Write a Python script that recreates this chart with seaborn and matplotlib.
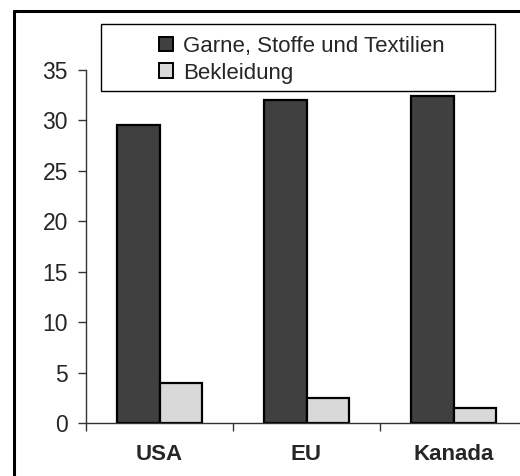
import matplotlib
matplotlib.use("Agg")
import matplotlib.pyplot as plt
from matplotlib.patches import Rectangle
from matplotlib.lines import Line2D
import pandas as pd
import seaborn as sns

# -------------------- data --------------------
regions = ["USA", "EU", "Kanada"]
series = ["Garne, Stoffe und Textilien", "Bekleidung"]
garne = [29.5, 32.0, 32.4]
bekleidung = [4.0, 2.5, 1.5]
yticks = [0, 5, 10, 15, 20, 25, 30, 35]
# ----------------------------------------------

df = pd.DataFrame({
    "region": regions * 2,
    "serie": [series[0]] * 3 + [series[1]] * 3,
    "wert": garne + bekleidung,
})

sns.set_theme(style="white")
plt.rcParams["font.family"] = ["Liberation Sans", "DejaVu Sans"]

W, H = 520, 476
fig = plt.figure(figsize=(W / 100, H / 100), dpi=100)
ax = fig.add_axes([86 / W, 1 - 423 / H, 441 / W, 353 / H])

sns.barplot(
    data=df, x="region", y="wert", hue="serie", order=regions,
    hue_order=series, palette=["#404040", "#d9d9d9"], width=0.58,
    edgecolor="black", linewidth=1.6, saturation=1, legend=False, ax=ax,
)

ax.set_ylim(0, 35)
ax.set_xlim(-0.5, 2.5)
ax.set_yticks(yticks)
ax.set_xticks(range(3))
ax.set_xticklabels(regions, fontweight="bold", fontsize=16)
ax.set_xticks([-0.5, 0.5, 1.5, 2.5], minor=True)
ax.tick_params(axis="x", which="major", length=0, pad=15)
ax.tick_params(axis="x", which="minor", length=6, width=1, color="#333333",
               direction="out", bottom=True)
ax.tick_params(axis="y", length=6, width=1, color="#333333", direction="out",
               left=True, labelsize=16.5, pad=7)
ax.set_xlabel("")
ax.set_ylabel("")
for s in ["top", "right"]:
    ax.spines[s].set_visible(False)
for s in ["left", "bottom"]:
    ax.spines[s].set_color("#333333")
    ax.spines[s].set_linewidth(1)

# legend box + entries
fig.patches.append(Rectangle((101 / W, 1 - 91 / H), 394 / W, 67 / H,
                             transform=fig.transFigure, fill=False,
                             edgecolor="black", linewidth=1))
handles = [Rectangle((0, 0), 1, 1, facecolor=c, edgecolor="black", linewidth=1.4)
           for c in ["#404040", "#d9d9d9"]]
fig.legend(handles, series, loc="upper left",
           bbox_to_anchor=(139 / W, 1 - 16 / H), frameon=False, fontsize=16,
           handlelength=0.63, handleheight=0.63, handletextpad=0.45,
           labelspacing=0.25, borderpad=0.4)

# outer frame (left + top edges visible, rest cut off)
fig.add_artist(Line2D([13.5 / W, 13.5 / W], [0, 1 - 11 / H], transform=fig.transFigure,
                      color="black", linewidth=2.2))
fig.add_artist(Line2D([13.5 / W, 1], [1 - 11 / H, 1 - 11 / H], transform=fig.transFigure,
                      color="black", linewidth=2.2))

fig.savefig("out.png", dpi=100)
